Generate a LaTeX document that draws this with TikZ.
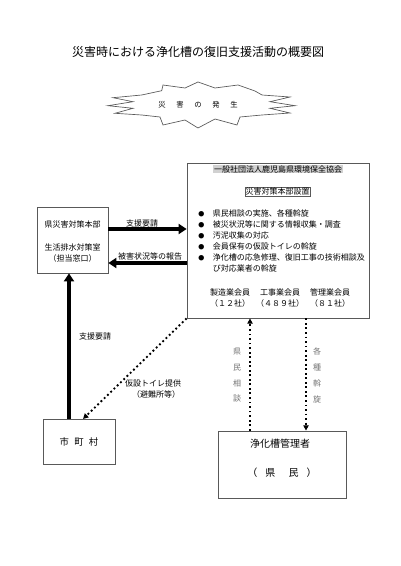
\documentclass[tikz,border=0pt]{standalone}
\usepackage{fontspec}
\setmainfont{Noto Sans CJK JP}
\usetikzlibrary{arrows.meta,fit,calc}
\begin{document}
\begin{tikzpicture}[x=0.75pt,y=-0.75pt,
  box/.style={draw=black!65, line width=0.6pt, inner sep=0pt},
  thickarrow/.style={line width=2.3pt, -{Triangle[length=6pt,width=7.5pt]}},
  dotarrow/.style={line width=1.4pt, dotted, -{Triangle[length=4pt,width=4pt]}},
  lbl/.style={font=\fontsize{6}{8}\selectfont, inner sep=0pt},
  vlbl/.style={font=\fontsize{6}{11.8}\selectfont, align=center, text=black!55, inner sep=0pt}]
\useasboundingbox[fill=white] (0,0) rectangle (400,566);

% title
\node[inner sep=0pt, font=\fontsize{9}{11}\selectfont] (title) at (198,52) {災害時における浄化槽の復旧支援活動の概要図};

% burst
\draw[black!65, line width=0.5pt, line join=miter]
  (141.7,95) -- (161.7,90.7) -- (163,85) -- (185,88) -- (198,82) -- (215,88) -- (238,85) -- (255,91) -- (262,95)
  -- (290,97) -- (270,101.7) -- (295,105.7) -- (270,108.3) -- (290,113) -- (262,115)
  -- (240,117) -- (237,125) -- (215,119) -- (198,128) -- (185,120) -- (163,125) -- (160,117) -- (141.7,115)
  -- (115,113.3) -- (133,108.3) -- (108,105.7) -- (133,101.7) -- (113,97.7) -- cycle;
\node[inner sep=0pt, font=\fontsize{5.5}{7}\selectfont] (burst) at (198,105)
  {災\hspace{8pt}害\hspace{8pt}の\hspace{8pt}発\hspace{8pt}生};

% association box
\node[box, fit={(187,163) (369,318)}] (assoc) {};
\node[fill=black!18, inner sep=0pt, minimum width=97.5pt, minimum height=6.5pt, font=\fontsize{6}{7}\selectfont] (hdr) at (278,169) {一般社団法人鹿児島県環境保全協会};
\node[draw=black!65, line width=0.4pt, inner sep=0pt, minimum width=49pt, minimum height=7pt, font=\fontsize{6}{7}\selectfont] (hq) at (277.5,191.5) {災害対策本部設置};
\node[anchor=north west, inner sep=0pt, font=\fontsize{6}{8.25}\selectfont, align=left] (list) at (198,209)
  {\begin{tabular}{@{}l@{\hspace{6.5pt}}l@{}}
   {\fontsize{4.5}{4.5}\selectfont ●} & 県民相談の実施、各種斡旋\\
   {\fontsize{4.5}{4.5}\selectfont ●} & 被災状況等に関する情報収集・調査\\
   {\fontsize{4.5}{4.5}\selectfont ●} & 汚泥収集の対応\\
   {\fontsize{4.5}{4.5}\selectfont ●} & 会員保有の仮設トイレの斡旋\\
   {\fontsize{4.5}{4.5}\selectfont ●} & 浄化槽の応急修理、復旧工事の技術相談及\\
    & び対応業者の斡旋
   \end{tabular}};
\node[lbl] (m1) at (230,292) {製造業会員};
\node[lbl] (m1n) at (230,303) {（１２社）};
\node[lbl] (m2) at (280,292) {工事業会員};
\node[lbl] (m2n) at (280,303) {（４８９社）};
\node[lbl] (m3) at (330,292) {管理業会員};
\node[lbl] (m3n) at (330,303) {（８１社）};

% prefecture box
\node[box, fit={(37,207) (108,273)}] (pref) {};
\node[lbl] (p1) at (72.5,224) {県災害対策本部};
\node[lbl] (p2) at (72.5,247) {生活排水対策室};
\node[lbl] (p3) at (72.5,258) {（担当窓口）};

% municipality box
\node[box, fit={(43,419) (115,464)}] (muni) {};
\node[inner sep=0pt, font=\fontsize{7}{8}\selectfont] (munit) at (79,442) {市\hspace{4pt}町\hspace{4pt}村};

% residents box
\node[box, fit={(218,431) (346,498)}] (res) {};
\node[inner sep=0pt, font=\fontsize{7.5}{9}\selectfont] (res1) at (280,444) {浄化槽管理者};
\node[inner sep=0pt, font=\fontsize{7.5}{9}\selectfont] (res2) at (282,473) {（\hspace{6pt}県\hspace{10pt}民\hspace{6pt}）};

% helper coordinates
\coordinate (r1) at (150,229);
\coordinate (r2) at (150,263);
\coordinate (c1) at (69,350);
\coordinate (d1) at (83,419);
\coordinate (e1) at (250,380);
\coordinate (e2) at (306,380);

% connectors
\draw[thickarrow] (pref.east |- r1) -- (assoc.west |- r1);
\draw[thickarrow] (assoc.west |- r2) -- (pref.east |- r2);
\draw[thickarrow] (muni.north -| c1) -- (pref.south -| c1);
\draw[dotarrow] (assoc.south west) -- (d1);
\draw[dotarrow] (res.north -| e1) -- (assoc.south -| e1);
\draw[dotarrow] (assoc.south -| e2) -- (res.north -| e2);

% labels
\node[lbl] (l1) at (142,223) {支援要請};
\node[lbl] (l2) at (150,256) {被害状況等の報告};
\node[lbl] (l3) at (95,336) {支援要請};
\node[lbl] (l4) at (153,383) {仮設トイレ提供};
\node[lbl] (l5) at (156,394) {（避難所等）};
\node[vlbl] (l6) at (237,375.5) {県\\民\\相\\談};
\node[vlbl] (l7) at (317,375.5) {各\\種\\斡\\旋};
\end{tikzpicture}
\end{document}
